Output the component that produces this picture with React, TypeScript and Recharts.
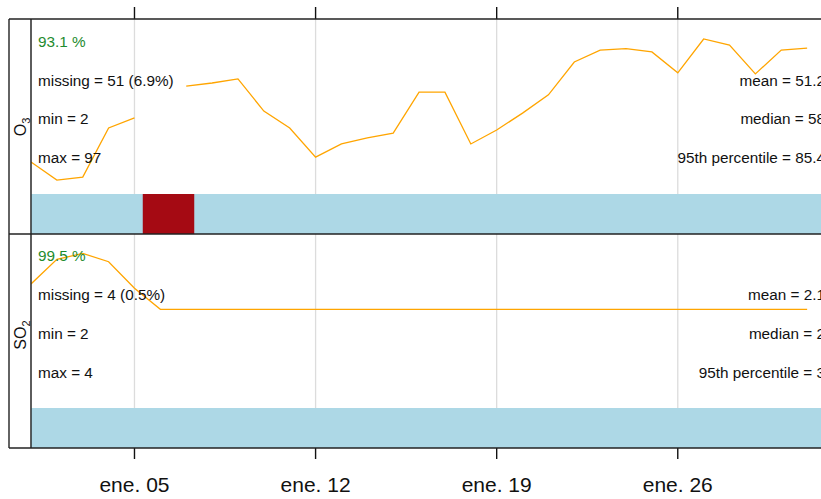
import React from "react";
import { ComposedChart, Line, XAxis, YAxis, CartesianGrid, ReferenceArea } from "recharts";

// Day offsets from 1 Jan 00:00 (daily means)
const dayIndex = [0, 1, 2, 3, 4, 5, 6, 7, 8, 9, 10, 11, 12, 13, 14, 15, 16, 17, 18, 19, 20, 21, 22, 23, 24, 25, 26, 27, 28, 29, 30];
const o3Daily = [28.5, 21.3, 22.5, 41.9, 45.9, null, 58.5, 59.7, 61.3, 48.6, 41.9, 30.4, 35.6, 38.0, 39.9, 56.1, 56.1, 35.6, 41.1, 47.8, 55.0, 68.0, 72.7, 73.3, 72.0, 63.7, 77.1, 74.7, 63.3, 72.7, 73.5];
const so2Daily = [2.64, 3.26, 3.41, 3.2, 2.53, 2, 2, 2, 2, 2, 2, 2, 2, 2, 2, 2, 2, 2, 2, 2, 2, 2, 2, 2, 2, 2, 2, 2, 2, 2, 2];

const tickDays = [4, 11, 18, 25];
const tickLabels = ["ene. 05", "ene. 12", "ene. 19", "ene. 26"];
const xDomain = [0, 31];

// missing-data blocks (day offsets)
const o3Missing = [[4.32, 6.31]];
const so2Missing: number[][] = [];

const o3Left = ["missing = 51 (6.9%)", "min = 2", "max = 97"];
const o3Right = ["mean = 51.2", "median = 58", "95th percentile = 85.4"];
const so2Left = ["missing = 4 (0.5%)", "min = 2", "max = 4"];
const so2Right = ["mean = 2.1", "median = 2", "95th percentile = 3"];
const o3Capture = "93.1 %";
const so2Capture = "99.5 %";

const o3Domain = [0, 85];
const o3Bar = [0, 15.8];
const so2Domain = [-1.5, 3.9];
const so2Bar = [-1.5, -0.49];

const o3Data = dayIndex.map((d, i) => ({ day: d, value: o3Daily[i] }));
const so2Data = dayIndex.map((d, i) => ({ day: d, value: so2Daily[i] }));

const FONT = "'Liberation Sans', Arial, sans-serif";
const W = 900;
const LINE = "#FFA500";
const BLUE = "#ADD8E6";
const RED = "#A50A13";
const GRID = "#DCDCDC";
const FRAME = "#222";

function tickFmt(v: number) {
  const i = tickDays.indexOf(v);
  return i >= 0 ? tickLabels[i] : "";
}

function EmptyTick() {
  return <g />;
}

export default function App() {
  const margin = { top: 0, right: W - 833, bottom: 0, left: 31 };
  const textStyle = { fontFamily: FONT, fontSize: 15.3 };
  const leftX = 38;
  const rightX = 825;
  const o3Base = [85.5, 124.2, 162.8];
  const so2Base = [300, 339, 377.7];
  return (
    <div style={{ position: "fixed", left: 0, top: 0, width: 821, height: 499, overflow: "hidden", background: "#fff" }}>
      <div style={{ position: "absolute", left: 0, top: 0 }}>
        <ComposedChart width={W} height={234} data={o3Data} margin={margin}>
          <XAxis
            dataKey="day"
            type="number"
            domain={xDomain}
            ticks={tickDays}
            orientation="top"
            height={19}
            tickSize={12}
            tick={<EmptyTick />}
            axisLine={false}
            tickLine={{ stroke: "#111", strokeWidth: 1.4 }}
            allowDataOverflow
          />
          <YAxis hide type="number" domain={o3Domain} allowDataOverflow />
          <CartesianGrid vertical horizontal={false} stroke={GRID} strokeWidth={1.3} />
          <ReferenceArea x1={xDomain[0]} x2={xDomain[1]} y1={o3Bar[0]} y2={o3Bar[1]} fill={BLUE} fillOpacity={1} stroke="none" ifOverflow="hidden" />
          {o3Missing.map((m, i) => (
            <ReferenceArea key={i} x1={m[0]} x2={m[1]} y1={o3Bar[0]} y2={o3Bar[1]} fill={RED} fillOpacity={1} stroke="none" />
          ))}
          <Line type="linear" dataKey="value" stroke={LINE} strokeWidth={1.3} dot={false} connectNulls={false} isAnimationActive={false} />
        </ComposedChart>
      </div>
      <div style={{ position: "absolute", left: 0, top: 234 }}>
        <ComposedChart width={W} height={265} data={so2Data} margin={margin}>
          <XAxis
            dataKey="day"
            type="number"
            domain={xDomain}
            ticks={tickDays}
            orientation="bottom"
            height={51}
            tickSize={11}
            tickMargin={18}
            tickFormatter={tickFmt}
            tick={{ fontFamily: FONT, fontSize: 21, fill: "#111" }}
            axisLine={false}
            tickLine={{ stroke: "#111", strokeWidth: 1.4 }}
            allowDataOverflow
          />
          <YAxis hide type="number" domain={so2Domain} allowDataOverflow />
          <CartesianGrid vertical horizontal={false} stroke={GRID} strokeWidth={1.3} />
          <ReferenceArea x1={xDomain[0]} x2={xDomain[1]} y1={so2Bar[0]} y2={so2Bar[1]} fill={BLUE} fillOpacity={1} stroke="none" ifOverflow="hidden" />
          {so2Missing.map((m, i) => (
            <ReferenceArea key={i} x1={m[0]} x2={m[1]} y1={so2Bar[0]} y2={so2Bar[1]} fill={RED} fillOpacity={1} stroke="none" />
          ))}
          <Line type="linear" dataKey="value" stroke={LINE} strokeWidth={1.3} dot={false} connectNulls={false} isAnimationActive={false} />
        </ComposedChart>
      </div>
      <svg width={821} height={499} style={{ position: "absolute", left: 0, top: 0, pointerEvents: "none" }}>
        <g stroke={FRAME} strokeWidth={1.4} fill="none">
          <line x1={9} y1={19} x2={821} y2={19} />
          <line x1={9} y1={234} x2={821} y2={234} />
          <line x1={9} y1={448} x2={821} y2={448} />
          <line x1={9} y1={19} x2={9} y2={448} />
          <line x1={31} y1={19} x2={31} y2={448} />
        </g>
        <text transform="translate(26,127) rotate(-90)" textAnchor="middle" style={{ fontFamily: FONT, fontSize: 16 }} fill="#111">
          O<tspan fontSize={11} dy={4}>3</tspan>
        </text>
        <text transform="translate(26,335) rotate(-90)" textAnchor="middle" style={{ fontFamily: FONT, fontSize: 16 }} fill="#111">
          SO<tspan fontSize={11} dy={4}>2</tspan>
        </text>
        <text x={leftX} y={46.7} style={textStyle} fill="#1E8B2E">{o3Capture}</text>
        {o3Left.map((t, i) => (
          <text key={"l" + i} x={leftX} y={o3Base[i]} style={textStyle} fill="#111">{t}</text>
        ))}
        {o3Right.map((t, i) => (
          <text key={"r" + i} x={rightX} y={o3Base[i]} textAnchor="end" style={textStyle} fill="#111">{t}</text>
        ))}
        <text x={leftX} y={261} style={textStyle} fill="#1E8B2E">{so2Capture}</text>
        {so2Left.map((t, i) => (
          <text key={"sl" + i} x={leftX} y={so2Base[i]} style={textStyle} fill="#111">{t}</text>
        ))}
        {so2Right.map((t, i) => (
          <text key={"sr" + i} x={rightX} y={so2Base[i]} textAnchor="end" style={textStyle} fill="#111">{t}</text>
        ))}
      </svg>
    </div>
  );
}
